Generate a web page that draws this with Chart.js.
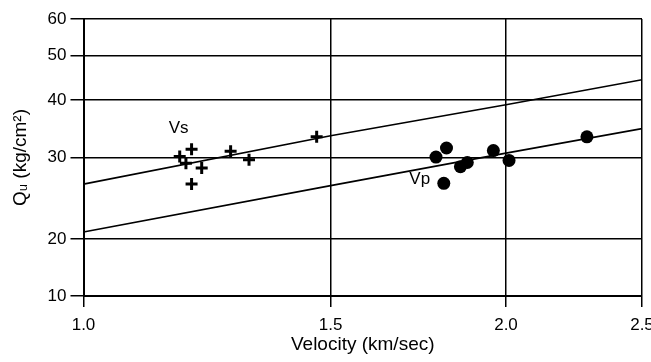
<html>
<head>
    <script src="https://cdn.jsdelivr.net/npm/chart.js@4.4.0/dist/chart.umd.min.js"></script>
    <style>
        body {
            margin: 0;
            background: #fff;
            overflow: hidden;
        }
    </style>
</head>
<body>
    <canvas id="quChart" width="651" height="362"></canvas>
    <script>
        // tick labels
        const xTicks = [1.0, 1.5, 2.0, 2.5];
        const yTicks = [20, 30, 40, 50, 60];
        const yBottomLabel = "10";   // axis is broken: bottom edge is labelled 10
        const yBottomValue = 15.04;

        // Vs (crosses)
        const vsX = [1.171, 1.194, 1.183, 1.194, 1.214, 1.273, 1.312, 1.466];
        const vsY = [30.2, 31.3, 29.2, 26.3, 28.5, 31.0, 29.7, 33.3];
        // Vp (dots)
        const vpX = [1.783, 1.814, 1.856, 1.877, 1.959, 2.010, 1.806, 2.284];
        const vpY = [30.1, 31.5, 28.7, 29.3, 31.1, 29.6, 26.4, 33.3];

        // fitted lines
        const fitX = [1.0, 1.5, 2.0, 2.5];
        const vsFit = [26.3, 33.5, 39.1, 44.3];
        const vpFit = [20.7, 26.1, 30.7, 34.7];

        // text labels in the plot
        const noteText = ["Vs", "Vp"];
        const noteX = [1.169, 1.736];
        const noteY = [34.8, 26.9];

        const toPts = (xs, ys) => xs.map((x, i) => ({ x: x, y: ys[i] }));

        const FONT = "'Liberation Sans', Arial, sans-serif";

        const notes = {
            id: "notes",
            afterDatasetsDraw(chart) {
                const ctx = chart.ctx;
                const xs = chart.scales.x, ys = chart.scales.y;
                ctx.save();
                ctx.fillStyle = "#000";
                ctx.font = "17px " + FONT;
                ctx.textAlign = "center";
                ctx.textBaseline = "middle";
                noteText.forEach((t, i) => {
                    ctx.fillText(t, xs.getPixelForValue(noteX[i]), ys.getPixelForValue(noteY[i]));
                });
                ctx.restore();
            }
        };

        new Chart(document.getElementById("quChart"), {
            type: "scatter",
            data: {
                datasets: [{
                    data: toPts(vsX, vsY),
                    pointStyle: "cross",
                    pointRadius: 6,
                    borderColor: "#000",
                    borderWidth: 3,
                }, {
                    data: toPts(vpX, vpY),
                    pointStyle: "circle",
                    pointRadius: 6.5,
                    backgroundColor: "#000",
                    borderColor: "#000",
                    borderWidth: 0,
                }, {
                    type: "line",
                    data: toPts(fitX, vsFit),
                    borderColor: "#000",
                    borderWidth: 1.6,
                    pointRadius: 0,
                    fill: false,
                }, {
                    type: "line",
                    data: toPts(fitX, vpFit),
                    borderColor: "#000",
                    borderWidth: 1.6,
                    pointRadius: 0,
                    fill: false,
                }]
            },
            options: {
                responsive: false,
                animation: false,
                layout: {
                    padding: { left: 6, right: 7.5, top: 19, bottom: 4 }
                },
                scales: {
                    x: {
                        type: "logarithmic",
                        min: 1.0,
                        max: 2.5,
                        afterBuildTicks: (s) => { s.ticks = xTicks.map(v => ({ value: v })); },
                        afterFit: (s) => {
                            s.height = 362 - 296 - 4;
                            s.paddingLeft = 0;
                            s.paddingRight = 0;
                        },
                        ticks: {
                            color: "#000",
                            font: { family: FONT, size: 17 },
                            padding: 8,
                            maxRotation: 0,
                            autoSkip: false,
                            callback: (v) => Number(v).toFixed(1),
                        },
                        grid: {
                            color: "#000",
                            lineWidth: 1.5,
                            tickLength: 11,
                        },
                        border: { color: "#000", width: 2 },
                        title: {
                            display: true,
                            text: "Velocity (km/sec)",
                            color: "#000",
                            font: { family: FONT, size: 19 },
                            padding: { top: 0, bottom: 2 },
                        },
                    },
                    y: {
                        type: "logarithmic",
                        min: yBottomValue,
                        max: 60,
                        afterBuildTicks: (s) => {
                            s.ticks = [{ value: yBottomValue }].concat(yTicks.map(v => ({ value: v })));
                        },
                        afterFit: (s) => {
                            s.width = 83.5 - 6;
                        },
                        ticks: {
                            color: "#000",
                            font: { family: FONT, size: 17 },
                            padding: 4,
                            autoSkip: false,
                            callback: (v) => (v < 19 ? yBottomLabel : String(Math.round(v))),
                        },
                        grid: {
                            color: "#000",
                            lineWidth: 1.5,
                            tickLength: 13,
                        },
                        border: { color: "#000", width: 2 },
                        title: {
                            display: true,
                            text: "Q\u1D64 (kg/cm\u00B2)",
                            color: "#000",
                            font: { family: FONT, size: 19 },
                            padding: { top: 3, bottom: 0 },
                        },
                    }
                },
                plugins: {
                    legend: { display: false },
                    tooltip: { enabled: false },
                }
            },
            plugins: [notes]
        });
    </script>
</body>
</html>
